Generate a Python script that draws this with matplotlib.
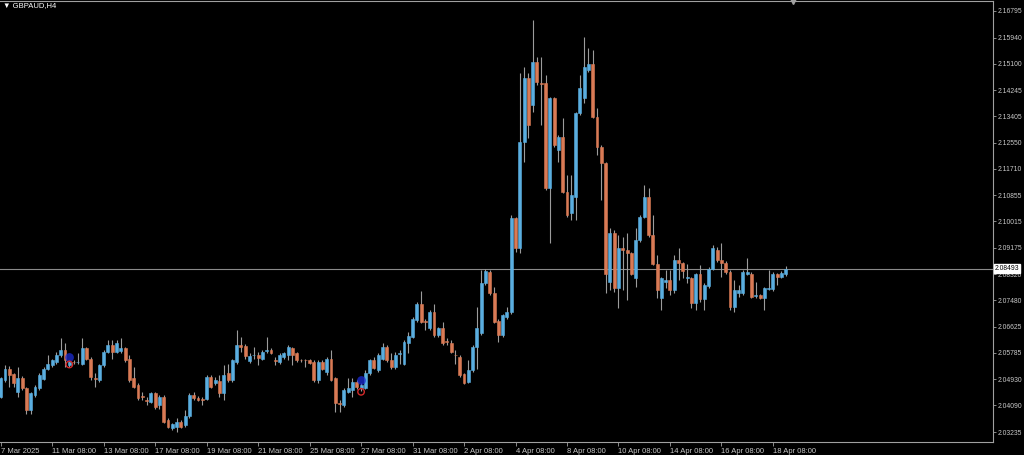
import matplotlib
matplotlib.use("Agg")
import matplotlib.pyplot as plt
import numpy as np

# GBPAUD H4 candles
opens = [2.0437, 2.0491, 2.0525, 2.0509, 2.0453, 2.0499, 2.0466, 2.0394, 2.0442, 2.0464,
         2.0494, 2.0526, 2.0539, 2.0550, 2.0571, 2.0587, 2.0539, 2.0550, 2.0548, 2.0544,
         2.0593, 2.0560, 2.0498, 2.0491, 2.0539, 2.0580, 2.0603, 2.0582, 2.0584, 2.0595,
         2.0560, 2.0496, 2.0475, 2.0441, 2.0426, 2.0421, 2.0448, 2.0410, 2.0437, 2.0362,
         2.0335, 2.0340, 2.0356, 2.0346, 2.0376, 2.0442, 2.0434, 2.0429, 2.0429, 2.0501,
         2.0480, 2.0487, 2.0448, 2.0512, 2.0491, 2.0550, 2.0603, 2.0601, 2.0552, 2.0570,
         2.0573, 2.0560, 2.0585, 2.0589, 2.0555, 2.0550, 2.0566, 2.0571, 2.0593, 2.0577,
         2.0556, 2.0555, 2.0555, 2.0550, 2.0491, 2.0550, 2.0517, 2.0560, 2.0496, 2.0418,
         2.0410, 2.0453, 2.0459, 2.0485, 2.0464, 2.0464, 2.0512, 2.0557, 2.0523, 2.0560,
         2.0598, 2.0557, 2.0534, 2.0574, 2.0544, 2.0609, 2.0630, 2.0684, 2.0736, 2.0680,
         2.0657, 2.0709, 2.0636, 2.0657, 2.0615, 2.0611, 2.0572, 2.0566, 2.0510, 2.0485,
         2.0523, 2.0598, 2.0641, 2.0802, 2.0840, 2.0770, 2.0682, 2.0636, 2.0695, 2.0711,
         2.1012, 2.0915, 2.1259, 2.1463, 2.1377, 2.1516, 2.1449, 2.1447, 2.1108, 2.1398,
         2.1232, 2.1275, 2.1097, 2.1028, 2.1081, 2.1350, 2.1398, 2.1490, 2.1508, 2.1339,
         2.1242, 2.1189, 2.0807, 2.0963, 2.0786, 2.0915, 2.0909, 2.0899, 2.0818, 2.0942,
         2.1017, 2.1081, 2.0958, 2.0866, 2.0754, 2.0807, 2.0813, 2.0781, 2.0877, 2.0869,
         2.0819, 2.0818, 2.0740, 2.0832, 2.0751, 2.0793, 2.0850, 2.0911, 2.0877, 2.0869,
         2.0840, 2.0727, 2.0770, 2.0770, 2.0834, 2.0834, 2.0761, 2.0764, 2.0754, 2.0785,
         2.0783, 2.0832, 2.0824, 2.0834]
highs = [2.0501, 2.0539, 2.0536, 2.0514, 2.0534, 2.0503, 2.0469, 2.0453, 2.0475, 2.0512,
         2.0534, 2.0571, 2.0560, 2.0582, 2.0627, 2.0609, 2.0555, 2.0555, 2.0577, 2.0627,
         2.0598, 2.0566, 2.0512, 2.0544, 2.0587, 2.0620, 2.0620, 2.0620, 2.0625, 2.0598,
         2.0571, 2.0534, 2.0480, 2.0453, 2.0437, 2.0453, 2.0453, 2.0442, 2.0442, 2.0367,
         2.0353, 2.0367, 2.0362, 2.0394, 2.0448, 2.0453, 2.0439, 2.0435, 2.0507, 2.0507,
         2.0501, 2.0507, 2.0539, 2.0544, 2.0560, 2.0652, 2.0630, 2.0607, 2.0577, 2.0598,
         2.0582, 2.0587, 2.0630, 2.0593, 2.0566, 2.0577, 2.0582, 2.0603, 2.0598, 2.0582,
         2.0560, 2.0560, 2.0560, 2.0555, 2.0555, 2.0555, 2.0566, 2.0589, 2.0501, 2.0426,
         2.0464, 2.0496, 2.0496, 2.0491, 2.0480, 2.0523, 2.0560, 2.0566, 2.0577, 2.0609,
         2.0603, 2.0577, 2.0582, 2.0587, 2.0620, 2.0646, 2.0695, 2.0743, 2.0778, 2.0689,
         2.0716, 2.0736, 2.0662, 2.0679, 2.0625, 2.0620, 2.0587, 2.0571, 2.0514, 2.0555,
         2.0603, 2.0727, 2.0845, 2.0847, 2.0845, 2.0791, 2.0689, 2.0705, 2.0727, 2.1022,
         2.1017, 2.1479, 2.1500, 2.1479, 2.1651, 2.1532, 2.1532, 2.1473, 2.1404, 2.1404,
         2.1280, 2.1334, 2.1151, 2.1151, 2.1355, 2.1473, 2.1597, 2.1559, 2.1554, 2.1366,
         2.1248, 2.1194, 2.0979, 2.0974, 2.0958, 2.0952, 2.0963, 2.0904, 2.0979, 2.1022,
         2.1119, 2.1108, 2.1022, 2.0893, 2.0824, 2.0845, 2.0845, 2.0893, 2.0915, 2.0872,
         2.0866, 2.0824, 2.0837, 2.0861, 2.0802, 2.0856, 2.0926, 2.0918, 2.0931, 2.0874,
         2.0845, 2.0813, 2.0797, 2.0845, 2.0883, 2.0840, 2.0807, 2.0768, 2.0791, 2.0845,
         2.0840, 2.0837, 2.0843, 2.0858]
lows = [2.0432, 2.0485, 2.0469, 2.0469, 2.0437, 2.0459, 2.0383, 2.0383, 2.0437, 2.0459,
        2.0491, 2.0523, 2.0534, 2.0544, 2.0566, 2.0534, 2.0534, 2.0542, 2.0544, 2.0539,
        2.0555, 2.0491, 2.0469, 2.0485, 2.0534, 2.0577, 2.0560, 2.0577, 2.0579, 2.0550,
        2.0485, 2.0464, 2.0426, 2.0426, 2.0410, 2.0416, 2.0399, 2.0399, 2.0351, 2.0335,
        2.0330, 2.0324, 2.0335, 2.0340, 2.0370, 2.0426, 2.0423, 2.0410, 2.0426, 2.0464,
        2.0475, 2.0437, 2.0426, 2.0485, 2.0485, 2.0544, 2.0582, 2.0560, 2.0546, 2.0560,
        2.0539, 2.0555, 2.0579, 2.0574, 2.0539, 2.0544, 2.0560, 2.0555, 2.0539, 2.0550,
        2.0549, 2.0534, 2.0542, 2.0485, 2.0480, 2.0523, 2.0507, 2.0488, 2.0389, 2.0389,
        2.0405, 2.0450, 2.0437, 2.0461, 2.0456, 2.0461, 2.0507, 2.0525, 2.0517, 2.0555,
        2.0550, 2.0528, 2.0528, 2.0544, 2.0539, 2.0577, 2.0625, 2.0679, 2.0673, 2.0652,
        2.0652, 2.0630, 2.0630, 2.0603, 2.0603, 2.0577, 2.0544, 2.0501, 2.0478, 2.0480,
        2.0517, 2.0528, 2.0636, 2.0797, 2.0764, 2.0673, 2.0614, 2.0630, 2.0689, 2.0705,
        2.0904, 2.0899, 2.1194, 2.1269, 2.1355, 2.1441, 2.1312, 2.1103, 2.0931, 2.1242,
        2.1194, 2.1092, 2.1017, 2.1006, 2.1006, 2.1345, 2.1382, 2.1484, 2.1334, 2.1216,
        2.1071, 2.0770, 2.0781, 2.0775, 2.0722, 2.0781, 2.0748, 2.0829, 2.0791, 2.0936,
        2.1012, 2.0952, 2.0861, 2.0754, 2.0716, 2.0786, 2.0764, 2.0770, 2.0813, 2.0818,
        2.0802, 2.0722, 2.0716, 2.0743, 2.0716, 2.0786, 2.0845, 2.0872, 2.0824, 2.0834,
        2.0716, 2.0711, 2.0759, 2.0764, 2.0829, 2.0754, 2.0754, 2.0751, 2.0716, 2.0781,
        2.0778, 2.0797, 2.0818, 2.0826]
closes = [2.0496, 2.0528, 2.0507, 2.0480, 2.0499, 2.0464, 2.0394, 2.0448, 2.0469, 2.0507,
          2.0528, 2.0541, 2.0555, 2.0573, 2.0587, 2.0555, 2.0550, 2.0548, 2.0550, 2.0593,
          2.0560, 2.0501, 2.0494, 2.0539, 2.0582, 2.0603, 2.0582, 2.0609, 2.0595, 2.0555,
          2.0491, 2.0469, 2.0432, 2.0437, 2.0422, 2.0448, 2.0405, 2.0437, 2.0356, 2.0340,
          2.0348, 2.0356, 2.0340, 2.0376, 2.0442, 2.0432, 2.0428, 2.0426, 2.0501, 2.0469,
          2.0491, 2.0448, 2.0507, 2.0491, 2.0555, 2.0603, 2.0598, 2.0569, 2.0569, 2.0572,
          2.0563, 2.0582, 2.0589, 2.0579, 2.0552, 2.0571, 2.0577, 2.0598, 2.0571, 2.0555,
          2.0554, 2.0554, 2.0546, 2.0491, 2.0550, 2.0528, 2.0560, 2.0491, 2.0416, 2.0414,
          2.0459, 2.0464, 2.0485, 2.0467, 2.0475, 2.0514, 2.0555, 2.0531, 2.0571, 2.0598,
          2.0555, 2.0534, 2.0571, 2.0579, 2.0614, 2.0632, 2.0686, 2.0736, 2.0679, 2.0678,
          2.0709, 2.0636, 2.0657, 2.0609, 2.0612, 2.0582, 2.0570, 2.0507, 2.0482, 2.0523,
          2.0598, 2.0657, 2.0802, 2.0843, 2.0770, 2.0679, 2.0636, 2.0700, 2.0711, 2.1012,
          2.0915, 2.1259, 2.1463, 2.1312, 2.1516, 2.1452, 2.1444, 2.1108, 2.1398, 2.1248,
          2.1275, 2.1097, 2.1022, 2.1087, 2.1350, 2.1430, 2.1500, 2.1508, 2.1339, 2.1242,
          2.1189, 2.0834, 2.0963, 2.0786, 2.0915, 2.0909, 2.0899, 2.0834, 2.0942, 2.1017,
          2.1081, 2.0958, 2.0866, 2.0781, 2.0818, 2.0813, 2.0781, 2.0877, 2.0869, 2.0843,
          2.0824, 2.0738, 2.0832, 2.0751, 2.0797, 2.0850, 2.0915, 2.0877, 2.0869, 2.0840,
          2.0727, 2.0781, 2.0781, 2.0840, 2.0840, 2.0759, 2.0764, 2.0756, 2.0786, 2.0787,
          2.0834, 2.0824, 2.0837, 2.0849]

current_price = 2.08493
price_ticks = [2.16795, 2.15940, 2.15100, 2.14245, 2.13405, 2.12550, 2.11710, 2.10855,
               2.10015, 2.09175, 2.08320, 2.07480, 2.06625, 2.05785, 2.04930, 2.04090, 2.03235]
time_tick_bars = [0, 12, 24, 36, 48, 60, 72, 84, 96, 108, 120, 132, 144, 156, 168, 180]
time_labels = ["7 Mar 2025", "11 Mar 08:00", "13 Mar 08:00", "17 Mar 08:00", "19 Mar 08:00",
               "21 Mar 08:00", "25 Mar 08:00", "27 Mar 08:00", "31 Mar 08:00", "2 Apr 08:00",
               "4 Apr 08:00", "8 Apr 08:00", "10 Apr 08:00", "14 Apr 08:00", "16 Apr 08:00",
               "18 Apr 08:00"]

# trade arrows (entry blue, exit red)
entry_bars = [16, 84]
entry_prices = [2.0564, 2.0491]
exit_bars = [16, 84]
exit_prices = [2.0541, 2.0453]

BULL = "#5aaee0"
BEAR = "#d97a55"
FG = "#c8c8c8"
plt.rcParams["font.family"] = ["Liberation Sans", "DejaVu Sans"]

o = np.array(opens)
c = np.array(closes)
x = np.arange(len(o))
cols = np.where(c >= o, BULL, BEAR)

fig = plt.figure(figsize=(10.24, 4.55), dpi=100, facecolor="black")
ax = fig.add_axes([0.0, 13 / 455, 993 / 1024, 441 / 455])
ax.set_facecolor("black")

ax.vlines(x, lows, highs, colors="#9c9c9c", linewidth=0.8, zorder=2)
ax.bar(x, np.abs(c - o), bottom=np.minimum(o, c), width=0.68,
       color=cols, edgecolor=cols, linewidth=0.4, zorder=3)

ax.scatter(entry_bars, entry_prices, s=40, color="#1c2bd6", alpha=0.75, zorder=4, linewidths=0)
ax.scatter(exit_bars, exit_prices, s=22, facecolors="none", edgecolors="#d42a2a", linewidths=1.0, zorder=4)

ax.axhline(current_price, color="#8a8a8a", linewidth=0.8, zorder=1)

ax.set_xlim(-0.16, 231.3)
ax.set_ylim(2.02913, 2.17117)

for s in ["top", "right", "bottom"]:
    ax.spines[s].set_color("#a0a0a0")
    ax.spines[s].set_linewidth(0.8)
ax.spines["left"].set_visible(False)

ax.yaxis.tick_right()
ax.set_yticks(price_ticks)
ax.set_yticklabels([f"{p:.5f}" for p in price_ticks])
ax.tick_params(axis="y", colors="#a0a0a0", labelcolor=FG, length=2.5, width=0.6,
               labelsize=4.9, pad=0.8)

ax.set_xticks(time_tick_bars)
ax.set_xticklabels(time_labels, ha="left")
ax.tick_params(axis="x", colors="#a0a0a0", labelcolor=FG, length=3, width=0.6,
               labelsize=5.5, pad=1)

ax.text(1.002, current_price, f"{current_price:.5f}", transform=ax.get_yaxis_transform(),
        ha="left", va="center", fontsize=4.9, color="black", zorder=10, clip_on=False,
        bbox=dict(boxstyle="square,pad=0.12", facecolor="white", edgecolor="white"))

fig.text(3 / 1024, 1 - 6 / 455, "▼ GBPAUD,H4", color="white", fontsize=5.5,
         ha="left", va="center")
ax.plot([793 / 993], [1.0], marker="v", markersize=4, color="#a0a0a0",
        transform=ax.transAxes, clip_on=False)

fig.savefig("out.png", dpi=100, facecolor="black")
